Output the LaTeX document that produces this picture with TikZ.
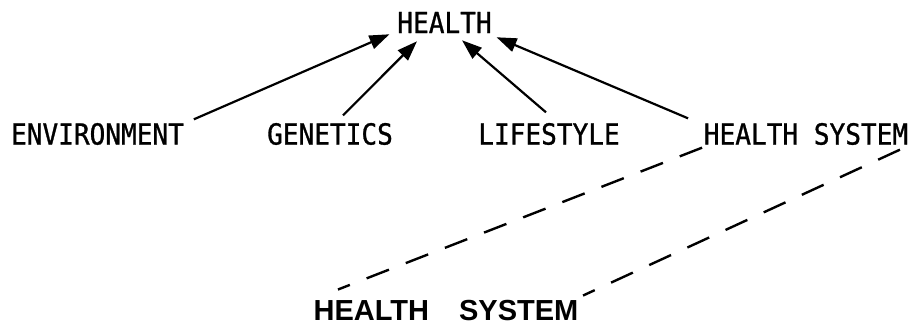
\documentclass[tikz,border=0pt]{standalone}
\usepackage{fontspec}
\usetikzlibrary{arrows.meta}
\newfontfamily\twfont[FakeStretch=0.9,FakeBold=1]{DejaVu Sans Mono}
\newfontfamily\hsfont{Liberation Sans}
\tikzset{
  lbl/.style={inner sep=0pt, font=\twfont\fontsize{29}{30}\selectfont},
  biglbl/.style={inner sep=0pt, font=\hsfont\bfseries\fontsize{29}{31}\selectfont},
  arr/.style={line width=2.2pt, -{Triangle[length=20pt,width=14pt]}},
  dsh/.style={line width=2.4pt, dash pattern=on 24pt off 18pt}
}
\begin{document}
\begin{tikzpicture}[x=1pt,y=-1pt]
\useasboundingbox (0,0) rectangle (912,326);
\node[lbl] (health) at (444.5,22.5) {HEALTH};
\node[lbl] (env) at (97.5,134) {ENVIRONMENT};
\node[lbl] (gen) at (330,134) {GENETICS};
\node[lbl] (life) at (549,134) {LIFESTYLE};
\node[lbl] (hs) at (806,134) {HEALTH SYSTEM};
\node[biglbl] (bhs) at (446,311) {HEALTH\hspace{30pt}SYSTEM};
\draw[arr] ([xshift=9.7pt,yshift=3.5pt]env.north east) -- ([xshift=-7.7pt,yshift=-1pt]health.south west);
\draw[arr] ([xshift=13pt,yshift=7.5pt]gen.north) -- ([xshift=-27.5pt,yshift=-8pt]health.south);
\draw[arr] ([xshift=-3pt,yshift=10.5pt]life.north) -- ([xshift=17.5pt,yshift=-7pt]health.south);
\draw[arr] ([xshift=-15.6pt,yshift=4.5pt]hs.north west) -- ([xshift=4.7pt,yshift=-4pt]health.south east);
\draw[dsh] ([xshift=-1.6pt,yshift=-2.5pt]hs.south west) -- ([xshift=24.5pt,yshift=11pt]bhs.north west);
\draw[dsh] ([xshift=-8.4pt,yshift=-4.5pt]hs.south east) -- ([xshift=4.5pt,yshift=5pt]bhs.north east);
\end{tikzpicture}
\end{document}
